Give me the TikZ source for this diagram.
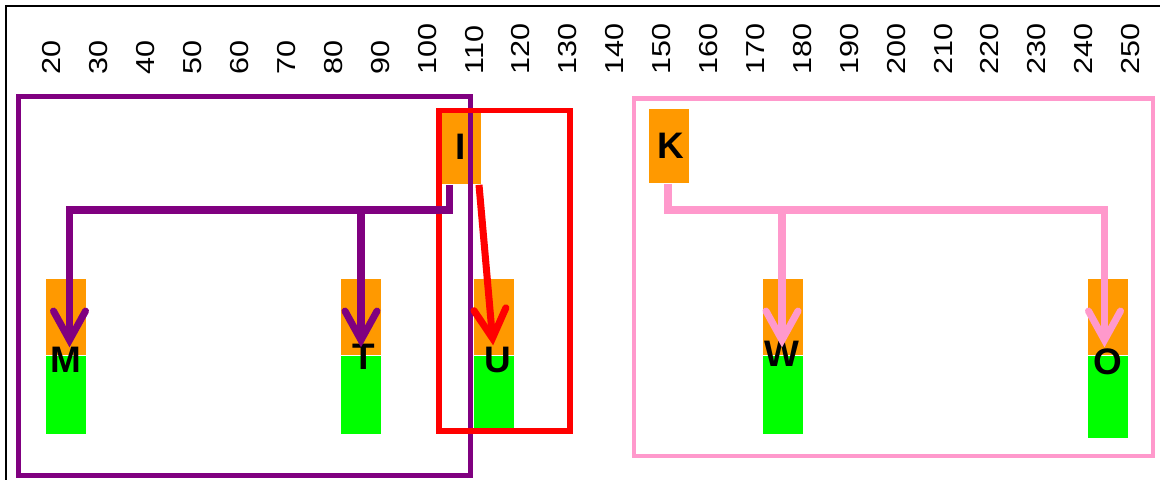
\documentclass[tikz,border=0pt]{standalone}
\usepackage{fontspec}
\setmainfont{Liberation Sans}
\usetikzlibrary{arrows.meta, positioning, calc}
\definecolor{mypurple}{RGB}{128,0,128}
\definecolor{myred}{RGB}{255,0,0}
\definecolor{mypink}{RGB}{255,153,204}
\definecolor{myorange}{RGB}{255,153,0}
\definecolor{mygreen}{RGB}{0,255,0}

\tikzset{
  ticklab/.style={rotate=90, yscale=0.85, anchor=west, inner sep=0pt, font=\fontsize{17.4}{18}\selectfont},
  barlab/.style={inner sep=0pt, font=\fontsize{21}{21}\selectfont\bfseries},
  topbox/.style={fill=myorange, minimum width=0.8cm, minimum height=1.5cm, inner sep=0pt, font=\fontsize{21}{21}\selectfont\bfseries},
  upbar/.style={fill=myorange, minimum width=0.8cm, minimum height=1.52cm, inner sep=0pt},
  lowbar/.style={fill=mygreen, minimum width=0.8cm, minimum height=1.56cm, inner sep=0pt},
  link/.style={line width=4pt, -{Straight Barb[length=0.58cm, width=0.64cm, line cap=round]}, shorten >=0.16cm},
}

\begin{document}
\begin{tikzpicture}[x=0.02cm, y=-0.02cm]
\useasboundingbox (0,0) rectangle (1160,480);
\clip (0,0) rectangle (1160,480);

\draw[line width=1.1pt] (6,500) |- (1180,6);

\foreach \v in {20,30,...,250}
  \node[ticklab] (t\v) at ({52+(\v-20)*4.69},75) {\v};

\node[topbox] (I) at (461,147) {I};
\node[topbox] (K) at (669,146) {\hspace{0.08cm}K};

\node[upbar] (Mup) at (66,317) {};
\node[lowbar, below=0pt of Mup] (Mlow) {};
\node[upbar] (Tup) at (361,317) {};
\node[lowbar, below=0pt of Tup] (Tlow) {};
\node[upbar] (Uup) at (494,317) {};
\node[lowbar, below=0pt of Uup, minimum height=1.5cm] (Ulow) {};
\node[upbar] (Wup) at (783,317) {};
\node[lowbar, below=0pt of Wup] (Wlow) {};
\node[upbar] (Oup) at (1108,317) {};
\node[lowbar, below=0pt of Oup, minimum height=1.64cm] (Olow) {};

\node[barlab] (M) at (66,360) {M};
\node[barlab] (T) at (364,357) {T};
\node[barlab] (U) at (498,360) {U};
\node[barlab] (W) at (782,354) {W};
\node[barlab] (O) at (1108,362) {O};

\draw[mypurple, line width=2.85pt] (18.5,96.5) rectangle (470.5,475.5);
\draw[myred, line width=3.1pt] (439,110.5) rectangle (570,431);
\draw[mypink, line width=2.3pt] (634,98.5) rectangle (1153,456);

\coordinate (jM) at (69.5,210);
\coordinate (jT) at (361,210);
\coordinate (jW) at (782,210);
\coordinate (jO) at (1104.5,210);

\draw[link, mypurple] ($(I.south)+(-11.5,0)$) |- (jM) -- (jM |- Mup.south);
\draw[link, mypurple] (jT) -- (jT |- Tup.south);
\draw[link, myred, shorten >=0.2cm] ($(I.south)+(18,0)$) -- (Uup.south);
\draw[link, mypink] ($(K.south)+(-1,0)$) |- (jO) -- (jO |- Oup.south);
\draw[link, mypink] (jW) -- (jW |- Wup.south);

\end{tikzpicture}
\end{document}
